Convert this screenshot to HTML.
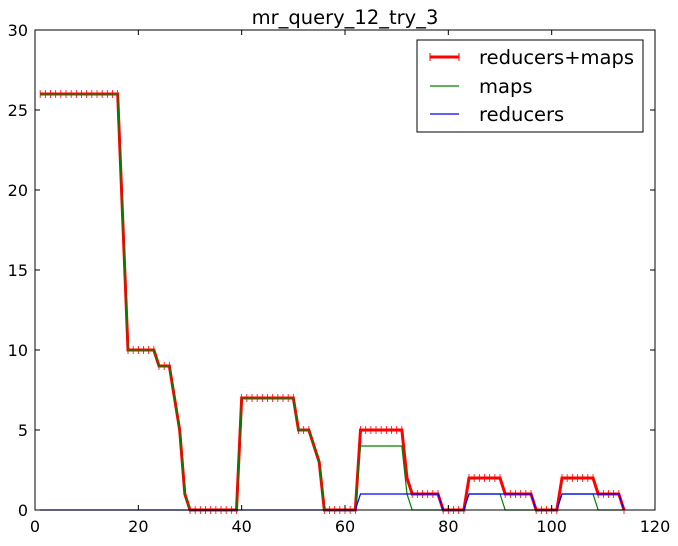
<!DOCTYPE html>
<html><head><meta charset="utf-8"><style>
body{margin:0;background:#fff}
text{font-family:"DejaVu Sans","Liberation Sans",sans-serif}
</style></head><body>
<svg id="chart" width="678" height="541" xmlns="http://www.w3.org/2000/svg">
<rect width="678" height="541" fill="#fff"/>
<text x="345" y="24" font-size="19.5" text-anchor="middle">mr_query_12_try_3</text>
<g id="plot"></g>
<g id="axes"></g>
<g>
<rect x="417" y="40" width="226" height="92" fill="#fff" stroke="#000" stroke-width="1"/>
<line x1="430" y1="57" x2="459" y2="57" stroke="#f00" stroke-width="3"/>
<line x1="430" y1="53" x2="430" y2="61" stroke="#f00" stroke-width="1"/>
<line x1="459" y1="53" x2="459" y2="61" stroke="#f00" stroke-width="1"/>
<text x="479" y="64" font-size="19.5">reducers+maps</text>
<line x1="430" y1="86" x2="459" y2="86" stroke="#008000" stroke-width="1.2"/>
<text x="479" y="93" font-size="19.5">maps</text>
<line x1="430" y1="114" x2="459" y2="114" stroke="#00f" stroke-width="1.2"/>
<text x="479" y="121" font-size="19.5">reducers</text>
</g>
</svg>
<script>
const xTicks=[0,20,40,60,80,100,120];
const yTicks=[0,5,10,15,20,25,30];
const xs=[];for(let i=1;i<=114;i++)xs.push(i);
const total=[26,26,26,26,26,26,26,26,26,26,26,26,26,26,26,26,18,10,10,10,10,10,10,9,9,9,7,5,1,0,
0,0,0,0,0,0,0,0,0,7,7,7,7,7,7,7,7,7,7,7,5,5,5,4,3,0,0,0,0,0,
0,0,5,5,5,5,5,5,5,5,5,2,1,1,1,1,1,1,0,0,0,0,0,2,2,2,2,2,2,2,
1,1,1,1,1,1,0,0,0,0,0,2,2,2,2,2,2,2,1,1,1,1,1,0];
const maps=[26,26,26,26,26,26,26,26,26,26,26,26,26,26,26,26,18,10,10,10,10,10,10,9,9,9,7,5,1,0,
0,0,0,0,0,0,0,0,0,7,7,7,7,7,7,7,7,7,7,7,5,5,5,4,3,0,0,0,0,0,
0,0,4,4,4,4,4,4,4,4,4,1,0,0,0,0,0,0,0,0,0,0,0,1,1,1,1,1,1,1,
0,0,0,0,0,0,0,0,0,0,0,1,1,1,1,1,1,1,0,0,0,0,0,0];
const reducers=[0,0,0,0,0,0,0,0,0,0,0,0,0,0,0,0,0,0,0,0,0,0,0,0,0,0,0,0,0,0,
0,0,0,0,0,0,0,0,0,0,0,0,0,0,0,0,0,0,0,0,0,0,0,0,0,0,0,0,0,0,
0,0,1,1,1,1,1,1,1,1,1,1,1,1,1,1,1,1,0,0,0,0,0,1,1,1,1,1,1,1,
1,1,1,1,1,1,0,0,0,0,0,1,1,1,1,1,1,1,1,1,1,1,1,0];
const L=35,R=655,T=30,B=510;
const sx=v=>L+(v-0)/(120-0)*(R-L);
const sy=v=>B-(v-0)/(30-0)*(B-T);
const NS="http://www.w3.org/2000/svg";
const plot=document.getElementById('plot'),axes=document.getElementById('axes');
function mk(tag,attrs,parent){const e=document.createElementNS(NS,tag);for(const k in attrs)e.setAttribute(k,attrs[k]);parent.appendChild(e);return e;}
function pts(arr){return arr.map((v,i)=>sx(xs[i]).toFixed(2)+','+sy(v).toFixed(2)).join(' ');}
const t=mk('polyline',{points:pts(total),fill:'none',stroke:'#f00','stroke-width':3,'stroke-linejoin':'miter'},plot);


total.forEach((v,i)=>{const m=mk('line',{x1:sx(xs[i]),x2:sx(xs[i]),y1:sy(v)-4,y2:sy(v)+4,stroke:'#f00','stroke-width':0.8},plot);

});
const g=mk('polyline',{points:pts(maps),fill:'none',stroke:'#008000','stroke-width':1.2},plot);


const b=mk('polyline',{points:pts(reducers),fill:'none',stroke:'#00f','stroke-width':1.2},plot);


const fr=mk('rect',{x:L,y:T,width:R-L,height:B-T,fill:'none',stroke:'#000','stroke-width':1},axes);


xTicks.forEach(v=>{const x=sx(v);
mk('line',{x1:x,x2:x,y1:B,y2:B-5,stroke:'#000'},axes);mk('line',{x1:x,x2:x,y1:T,y2:T+5,stroke:'#000'},axes);
const tx=mk('text',{x:x,y:B+22,'font-size':16,'text-anchor':'middle'},axes);tx.textContent=v;

});
yTicks.forEach(v=>{const y=sy(v);
mk('line',{x1:L,x2:L+5,y1:y,y2:y,stroke:'#000'},axes);mk('line',{x1:R,x2:R-5,y1:y,y2:y,stroke:'#000'},axes);
const tx=mk('text',{x:L-7,y:y+6,'font-size':16,'text-anchor':'end'},axes);tx.textContent=v;

});
</script>
</body></html>
